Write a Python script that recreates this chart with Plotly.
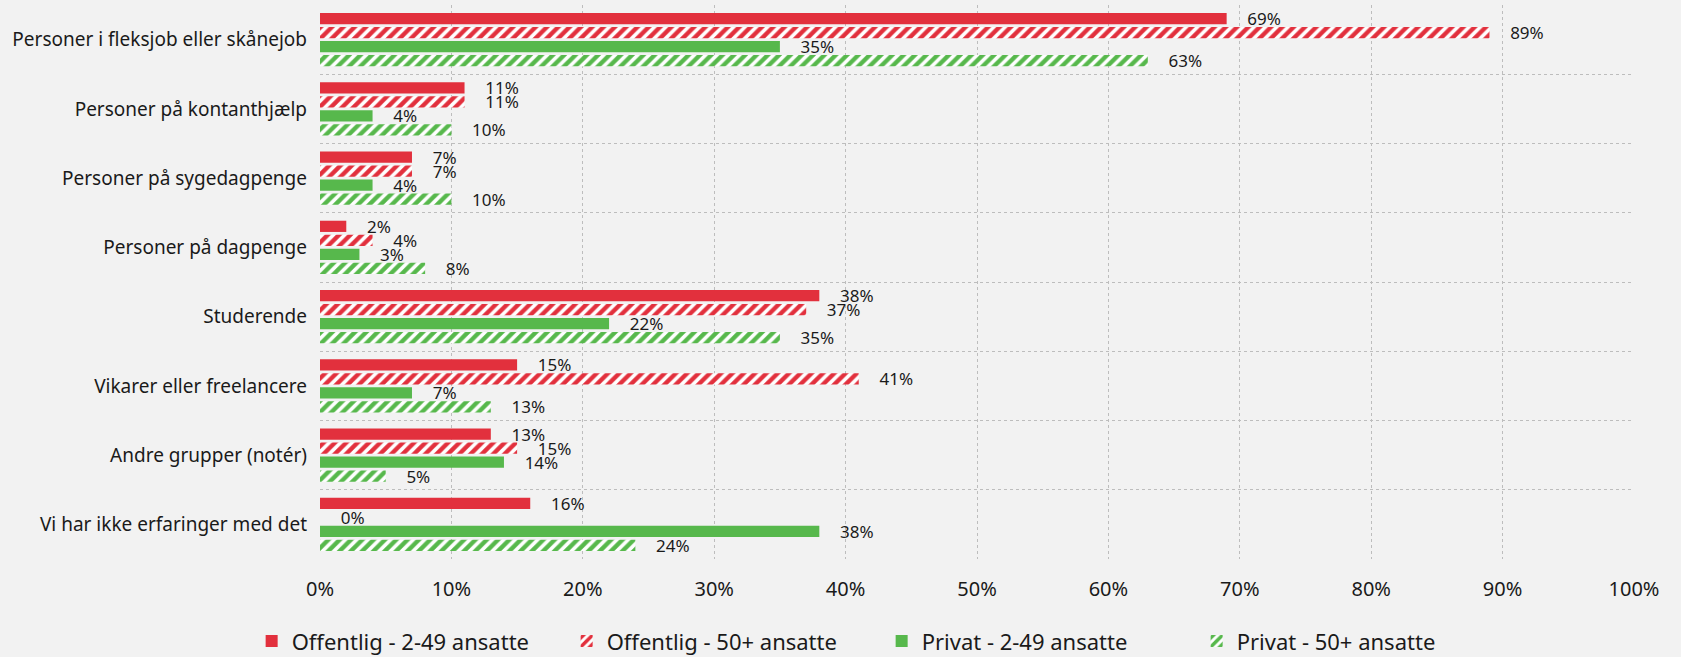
import plotly.graph_objects as go

# categories (top to bottom)
categories = [
    "Personer i fleksjob eller skånejob",
    "Personer på kontanthjælp",
    "Personer på sygedagpenge",
    "Personer på dagpenge",
    "Studerende",
    "Vikarer eller freelancere",
    "Andre grupper (notér)",
    "Vi har ikke erfaringer med det",
]

# share in percent per group
offentlig_small = [69, 11, 7, 2, 38, 15, 13, 16]
offentlig_large = [89, 11, 7, 4, 37, 41, 15, 0]
privat_small = [35, 4, 4, 3, 22, 7, 14, 38]
privat_large = [63, 10, 10, 8, 35, 13, 5, 24]

tick_vals = [0, 10, 20, 30, 40, 50, 60, 70, 80, 90, 100]
tick_text = ["0%", "10%", "20%", "30%", "40%", "50%", "60%", "70%", "80%", "90%", "100%"]

RED = "#E2303D"
GREEN = "#57B84C"
BG = "#F2F2F2"

fig = go.Figure()

series = [
    ("Offentlig - 2-49 ansatte", offentlig_small, RED, False),
    ("Offentlig - 50+ ansatte", offentlig_large, RED, True),
    ("Privat - 2-49 ansatte", privat_small, GREEN, False),
    ("Privat - 50+ ansatte", privat_large, GREEN, True),
]

for name, vals, col, striped in series:
    if striped:
        marker = dict(color="white",
                      pattern=dict(shape="/", fgcolor=col, bgcolor="white",
                                   fgopacity=1, size=8, solidity=0.55,
                                   fillmode="overlay"),
                      line=dict(width=0))
    else:
        marker = dict(color=col, line=dict(width=0))
    fig.add_trace(go.Bar(
        name=name, y=categories, x=vals, orientation="h",
        marker=marker,
        text=["    %d%%" % v for v in vals],
        textposition="outside", constraintext="none", cliponaxis=False,
        textfont=dict(size=17, color="#1a1a1a", family="Noto Sans"),
    ))

fig.update_layout(
    barmode="group", bargap=0.19, bargroupgap=0.2,
    paper_bgcolor=BG, plot_bgcolor=BG,
    width=1681, height=657,
    margin=dict(l=320, r=47, t=5, b=98),
    font=dict(family="Noto Sans", color="#1a1a1a"),
    xaxis=dict(range=[0, 100], tickvals=tick_vals, ticktext=tick_text,
               showgrid=True, gridcolor="#BDBDBD", griddash="dot", gridwidth=1,
               zeroline=False, showline=False,
               tickfont=dict(size=20), ticklabelstandoff=16),
    yaxis=dict(autorange="reversed", tickson="boundaries",
               showgrid=True, gridcolor="#BDBDBD", griddash="dot", gridwidth=1,
               ticks="", tickfont=dict(size=19), ticklabelstandoff=12),
    legend=dict(orientation="h", xref="container", yref="container",
                x=0.1497, xanchor="left", y=0.024, yanchor="middle",
                font=dict(size=22, family="Noto Sans"),
                entrywidth=270, itemwidth=30, traceorder="normal"),
    showlegend=True,
)

fig.write_html("out.html", config={"displayModeBar": False},
               post_script="document.body.style.margin='0';")
